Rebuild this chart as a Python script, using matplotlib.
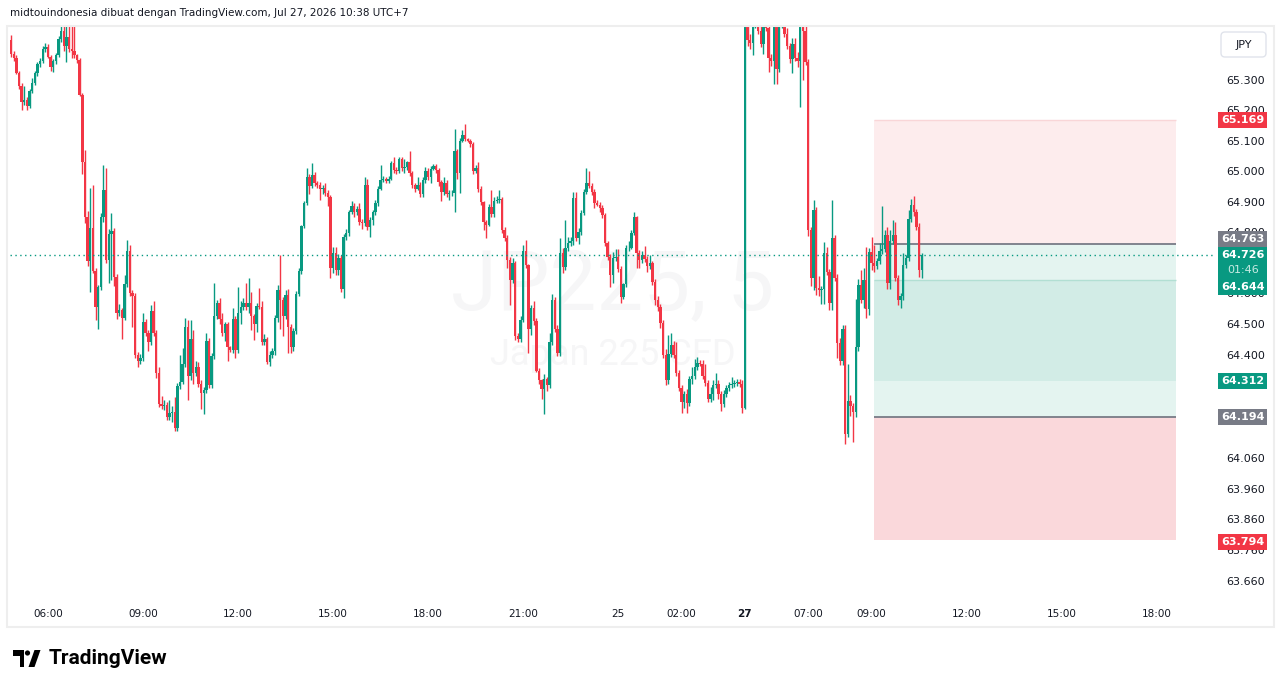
"""JP225 5-minute chart with a short/long position tool, TradingView style."""
import matplotlib
matplotlib.use("Agg")
import matplotlib.pyplot as plt
from matplotlib.patches import Rectangle, FancyBboxPatch, Polygon, Circle
from matplotlib.transforms import Affine2D
import numpy as np
import pandas as pd

W, H = 1281, 688
UP, DOWN = "#089981", "#f23645"
TEXT = "#131722"

# prices in index points (64726 -> 64.726)
first_open = 65430
close = [
    65385, 65372, 65323, 65280, 65226, 65232, 65215, 65262, 65290, 65320,
    65350, 65360, 65400, 65405, 65375, 65340, 65362, 65380, 65432, 65460,
    65410, 65440, 65400, 65395, 65380, 65365, 65250, 65030, 64850, 64705,
    64815, 64672, 64554, 64620, 64850, 64940, 64710, 64795, 64805, 64655,
    64535, 64545, 64518, 64630, 64740, 64600, 64590, 64397, 64380, 64388,
    64505, 64470, 64440, 64544, 64470, 64338, 64239, 64232, 64235, 64195,
    64210, 64212, 64160, 64298, 64310, 64370, 64490, 64330, 64450, 64340,
    64360, 64305, 64275, 64285, 64445, 64300, 64395, 64525, 64570, 64515,
    64470, 64500, 64423, 64415, 64515, 64415, 64535, 64555, 64570, 64555,
    64568, 64525, 64500, 64560, 64555, 64440, 64452, 64377, 64400, 64410,
    64518, 64610, 64577, 64525, 64595, 64489, 64423, 64476, 64597, 64673,
    64820, 64896, 64981, 64950, 64988, 64962, 64955, 64942, 64945, 64930,
    64916, 64682, 64732, 64675, 64715, 64613, 64784, 64797, 64866, 64886,
    64866, 64875, 64834, 64830, 64955, 64817, 64840, 64866, 64896, 64942,
    64971, 64975, 64968, 64975, 65027, 65004, 65000, 65040, 65010, 65015,
    65030, 64995, 64955, 64942, 64955, 64925, 64971, 65000, 64980, 65008,
    65018, 65004, 64966, 64932, 64962, 64925, 64928, 64930, 65067, 64995,
    65100, 65119, 65105, 65100, 65090, 65000, 65010, 64942, 64899, 64834,
    64825, 64883, 64860, 64902, 64905, 64910, 64807, 64781, 64709, 64643,
    64700, 64462, 64450, 64512, 64738, 64692, 64485, 64551, 64510, 64347,
    64315, 64288, 64320, 64300, 64440, 64577, 64485, 64406, 64732, 64686,
    64748, 64765, 64770, 64912, 64781, 64800, 64863, 64932, 64962, 64950,
    64932, 64896, 64890, 64880, 64857, 64765, 64719, 64659, 64715, 64720,
    64680, 64587, 64630, 64748, 64750, 64797, 64850, 64732, 64709, 64725,
    64712, 64690, 64700, 64636, 64577, 64554, 64502, 64397, 64315, 64403,
    64430, 64400, 64340, 64290, 64245, 64272, 64240, 64320, 64330, 64360,
    64372, 64368, 64330, 64308, 64255, 64270, 64300, 64305, 64270, 64239,
    64270, 64290, 64300, 64305, 64308, 64310, 64305, 64225, 65480, 65430,
    65420, 65480, 65490, 65460, 65415, 65480, 65470, 65372, 65360, 65480,
    65335, 65480, 65485, 65450, 65410, 65368, 65415, 65370, 65360, 65480,
    65460, 65356, 64807, 64650, 64873, 64617, 64610, 64615, 64732, 64670,
    64567, 64781, 64650, 64439, 64380, 64485, 64140, 64249, 64230, 64212,
    64423, 64627, 64577, 64643, 64548, 64735, 64700, 64690, 64705, 64740,
    64745, 64791, 64633, 64771, 64790, 64650, 64577, 64590, 64692, 64715,
    64843, 64889, 64865, 64817, 64676, 64726,
]
# wick length above / below the body, in points
wick_up = [
    15, 10, 8, 5, 8, 48, 10, 8, 15, 8,
    8, 10, 10, 15, 12, 5, 5, 8, 10, 20,
    20, 35, 100, 100, 100, 5, 5, 5, 40, 20,
    130, 140, 10, 8, 13, 80, 70, 15, 58, 10,
    10, 20, 8, 30, 34, 18, 10, 10, 10, 15,
    30, 10, 10, 17, 30, 10, 20, 25, 15, 10,
    40, 20, 50, 10, 87, 50, 28, 22, 62, 30,
    20, 15, 10, 10, 27, 10, 10, 108, 10, 15,
    20, 5, 8, 5, 36, 10, 85, 20, 15, 63,
    82, 35, 8, 10, 57, 20, 15, 5, 10, 10,
    10, 17, 115, 10, 15, 20, 10, 10, 10, 10,
    5, 8, 29, 10, 39, 10, 5, 10, 10, 15,
    10, 5, 19, 20, 15, 10, 10, 15, 8, 15,
    10, 10, 20, 10, 25, 20, 10, 8, 10, 8,
    50, 10, 5, 10, 8, 20, 10, 8, 5, 25,
    5, 37, 5, 5, 25, 10, 10, 15, 10, 10,
    5, 5, 5, 5, 20, 10, 10, 10, 72, 5,
    10, 15, 36, 5, 5, 5, 10, 20, 10, 5,
    5, 10, 56, 15, 15, 30, 5, 10, 10, 10,
    15, 5, 10, 15, 20, 36, 5, 10, 25, 10,
    10, 5, 15, 5, 30, 20, 10, 10, 49, 15,
    92, 20, 15, 20, 20, 15, 10, 10, 48, 40,
    10, 10, 10, 10, 10, 5, 5, 10, 20, 25,
    25, 10, 5, 10, 20, 10, 15, 5, 10, 15,
    30, 10, 25, 5, 10, 15, 10, 10, 20, 60,
    42, 15, 40, 10, 10, 10, 15, 10, 30, 25,
    20, 10, 15, 40, 10, 25, 15, 35, 10, 10,
    15, 10, 10, 20, 10, 10, 10, 10, 40, 20,
    20, 20, 20, 30, 20, 20, 20, 10, 10, 20,
    20, 20, 20, 30, 20, 10, 20, 20, 20, 20,
    30, 40, 10, 10, 33, 10, 40, 10, 35, 20,
    10, 125, 10, 15, 15, 10, 10, 120, 20, 10,
    160, 20, 50, 40, 110, 15, 50, 60, 10, 25,
    140, 15, 25, 35, 50, 45, 10, 10, 40, 10,
    30, 20, 30, 10, 15, 5,
]
wick_dn = [
    10, 10, 5, 10, 25, 8, 15, 8, 5, 8,
    8, 8, 5, 10, 5, 12, 15, 10, 5, 10,
    15, 54, 10, 25, 10, 10, 5, 40, 20, 15,
    100, 6, 40, 70, 10, 15, 10, 77, 150, 30,
    20, 10, 66, 5, 10, 10, 100, 10, 20, 10,
    10, 10, 30, 10, 10, 15, 10, 10, 15, 10,
    10, 30, 10, 10, 10, 5, 10, 80, 15, 35,
    10, 10, 52, 70, 10, 10, 10, 10, 10, 15,
    10, 25, 43, 8, 10, 28, 10, 35, 10, 10,
    20, 46, 54, 25, 5, 10, 10, 7, 15, 10,
    10, 10, 92, 63, 10, 83, 17, 10, 10, 5,
    10, 5, 5, 25, 5, 10, 10, 36, 15, 10,
    30, 32, 15, 15, 15, 10, 29, 10, 10, 5,
    15, 10, 10, 20, 10, 10, 33, 15, 10, 10,
    5, 5, 5, 8, 5, 10, 10, 5, 10, 15,
    10, 10, 10, 10, 5, 10, 10, 10, 10, 20,
    5, 10, 15, 31, 10, 10, 20, 10, 65, 20,
    66, 5, 5, 5, 10, 10, 5, 10, 10, 25,
    44, 5, 10, 10, 5, 10, 10, 10, 25, 82,
    10, 15, 10, 10, 5, 10, 79, 20, 15, 5,
    10, 33, 82, 20, 10, 10, 10, 10, 10, 20,
    10, 10, 10, 10, 10, 20, 10, 5, 5, 5,
    10, 15, 5, 15, 10, 10, 10, 39, 25, 10,
    10, 20, 5, 10, 10, 5, 5, 50, 25, 10,
    10, 20, 10, 10, 15, 10, 15, 10, 15, 10,
    10, 10, 10, 10, 35, 20, 30, 10, 15, 10,
    10, 5, 10, 10, 10, 10, 20, 10, 15, 25,
    10, 10, 10, 10, 10, 10, 10, 15, 5, 20,
    20, 40, 10, 10, 10, 30, 10, 46, 15, 76,
    50, 10, 10, 10, 10, 13, 45, 10, 20, 150,
    160, 10, 20, 25, 40, 23, 20, 45, 50, 10,
    20, 20, 10, 49, 15, 15, 32, 10, 30, 100,
    15, 10, 10, 25, 30, 20, 25, 20, 10, 10,
    10, 10, 20, 20, 10, 10, 15, 25, 10, 10,
    10, 10, 10, 10, 23, 25,
]

# sessions (UTC+7): Friday session, then Monday open
fri_start, fri_bars = "2026-07-24 04:50", 278
mon_start = "2026-07-27 05:00"

tick_times = ["2026-07-24 06:00", "2026-07-24 09:00", "2026-07-24 12:00",
              "2026-07-24 15:00", "2026-07-24 18:00", "2026-07-24 21:00",
              "2026-07-25 00:00", "2026-07-25 02:00", "2026-07-27 05:00",
              "2026-07-27 07:00", "2026-07-27 09:00", "2026-07-27 12:00",
              "2026-07-27 15:00", "2026-07-27 18:00"]
tick_labels = ["06:00", "09:00", "12:00", "15:00", "18:00", "21:00", "25",
               "02:00", "27", "07:00", "09:00", "12:00", "15:00", "18:00"]
price_ticks = [65.300, 65.200, 65.100, 65.000, 64.900, 64.800, 64.600,
               64.500, 64.400, 64.060, 63.960, 63.860, 63.760, 63.660]

# position tools
short_stop, short_entry, short_target = 65.169, 64.763, 64.312
long_target, long_entry, long_stop = 64.644, 64.194, 63.794
tool_span = (326.9, 441.3)
last_price, countdown = 64.726, "01:46"

assert len(close) == len(wick_up) == len(wick_dn)

c = np.array(close) / 1000
o = np.r_[first_open / 1000, c[:-1]]
hi = np.maximum(o, c) + np.array(wick_up) / 1000
lo = np.minimum(o, c) - np.array(wick_dn) / 1000
x = np.arange(len(c))
col = np.where(c >= o, UP, DOWN)

times = pd.date_range(fri_start, periods=fri_bars, freq="5min").append(
    pd.date_range(mon_start, periods=180, freq="5min"))
tick_pos = [times.get_loc(pd.Timestamp(t)) for t in tick_times]

fig = plt.figure(figsize=(W / 100, H / 100), dpi=100, facecolor="white")
pix = Affine2D().scale(1, -1).translate(0, H)   # image pixels, origin top-left

ax = fig.add_axes([10 / W, 1 - 598 / H, 1205 / W, 571 / H])
ax.set_xlim(-0.4, 456.1)
ax.set_ylim(63.603, 65.472)
for s in ax.spines.values():
    s.set_visible(False)

# watermark
ax.text(0.5, 0.545, "JP225, 5", transform=ax.transAxes, fontsize=60,
        color="#f6f6f7", ha="center", va="center", zorder=0, family="Roboto")
ax.text(0.5, 0.426, "Japan 225 CFD", transform=ax.transAxes, fontsize=26,
        color="#f6f6f7", ha="center", va="center", zorder=0, family="Roboto")

# position tool zones
x0, x1 = tool_span
zones = [(short_entry, short_stop, "#fdeced"),
         (long_target, short_entry, "#e4f4f0"),
         (short_target, long_target, "#d2ece6"),
         (long_entry, short_target, "#e4f4f0"),
         (long_stop, long_entry, "#fad8db")]
for lo_p, hi_p, fc in zones:
    ax.add_patch(Rectangle((x0, lo_p), x1 - x0, hi_p - lo_p, fc=fc, ec="none", zorder=1))
ax.hlines([short_entry, long_entry], x0, x1, colors="#787b86", lw=1.3, zorder=1.5)
ax.hlines([long_target], x0, x1, colors="#b2dfd3", lw=1, zorder=1.5)
ax.hlines([short_stop], x0, x1, colors="#f9d6d8", lw=1, zorder=1.5)

# candles
ax.vlines(x, lo, hi, colors=col, lw=1.0, zorder=3)
body = np.maximum(np.abs(c - o), 0.0018)
ax.bar(x, body, bottom=np.minimum(o, c), width=0.9, color=col, lw=0, zorder=3)

ax.axhline(last_price, color=UP, lw=1, ls=(0, (1, 2.5)), zorder=4)

# axes ticks
ax.yaxis.tick_right()
ax.set_yticks(price_ticks, [f"{p:.3f}" for p in price_ticks])
ax.tick_params(axis="y", length=0, pad=8, labelsize=8, labelcolor=TEXT)
ax.set_xticks(tick_pos, tick_labels)
ax.tick_params(axis="x", length=0, pad=8, labelsize=7.5, labelcolor=TEXT)
ax.get_xticklabels()[tick_labels.index("27")].set_fontweight("bold")


def ypix(price):
    return H - ax.transData.transform((0, price))[1]


def badge(yc, label, color, h=16):
    fig.add_artist(Rectangle((1218, yc - h / 2), 49, h, transform=pix,
                             fc=color, ec="none", zorder=5))
    fig.text(1243, yc, label, transform=pix, ha="center", va="center",
             color="white", fontsize=8, fontweight="bold", zorder=6)


# last price block (with countdown and the long target right under it)
y_last = ypix(last_price)
top = y_last - 8
fig.add_artist(Rectangle((1218, top), 49, 48, transform=pix, fc=UP, ec="none", zorder=5))
fig.text(1243, y_last, f"{last_price:.3f}", transform=pix, ha="center", va="center",
         color="white", fontsize=8, fontweight="bold", zorder=6)
fig.text(1243, y_last + 15, countdown, transform=pix, ha="center", va="center",
         color="#c8ebe3", fontsize=8, zorder=6)
fig.text(1243, y_last + 32, f"{long_target:.3f}", transform=pix, ha="center",
         va="center", color="white", fontsize=8, fontweight="bold", zorder=6)
badge(top - 8, f"{short_entry:.3f}", "#787b86")
badge(ypix(short_stop), f"{short_stop:.3f}", DOWN)
badge(ypix(short_target), f"{short_target:.3f}", UP)
badge(ypix(long_entry), f"{long_entry:.3f}", "#787b86")
badge(ypix(long_stop) + 2, f"{long_stop:.3f}", DOWN)

# currency button
fig.add_artist(FancyBboxPatch((1221, 32), 45, 25, transform=pix,
                              boxstyle="round,pad=0,rounding_size=4",
                              fc="white", ec="#e0e3eb", lw=1, zorder=5))
fig.text(1243.5, 44.5, "JPY", transform=pix, ha="center", va="center",
         fontsize=8, color=TEXT, zorder=6)

# pane frame
fig.add_artist(Rectangle((7, 26), 1267, 601, transform=pix, fc="none",
                         ec="#eeeeee", lw=1.5, zorder=4))

# header and logo
fig.text(10, 13, "midtouindonesia dibuat dengan TradingView.com, Jul 27, 2026 10:38 UTC+7",
         transform=pix, va="center", ha="left", fontsize=7.5, color=TEXT)
fig.add_artist(Polygon([(12.5, 650), (24, 650), (24, 667), (19.5, 667), (19.5, 655.5), (12.5, 655.5)],
                       closed=True, transform=pix, fc="#000000", ec="none"))
fig.add_artist(Circle((27.5, 653), 2.6, transform=pix, fc="#000000", ec="none"))
fig.add_artist(Polygon([(28.5, 667), (34.5, 650), (40.5, 650), (34.5, 667)],
                       closed=True, transform=pix, fc="#000000", ec="none"))
fig.text(49, 658.5, "TradingView", transform=pix, va="center", ha="left",
         fontsize=15, fontweight="bold", family="Roboto", color="#000000")

fig.savefig("out.png", dpi=100, facecolor="white")
